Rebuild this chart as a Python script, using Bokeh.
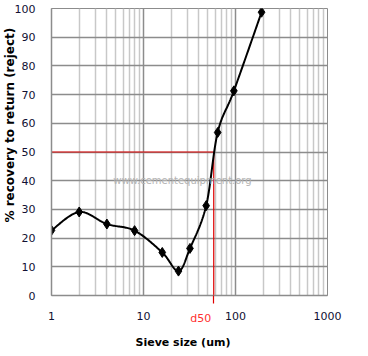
import numpy as np
from bokeh.plotting import figure
from bokeh.models import (FixedTicker, Label, Title, LogAxis)
from bokeh.embed import file_html
from bokeh.resources import INLINE

# ---- data ----
sieve_size = [1, 2, 4, 8, 16, 24, 32, 48, 64, 96, 192]
recovery = [22.7, 29.1, 24.9, 22.6, 15.0, 8.5, 16.4, 31.3, 56.8, 71.3, 98.7]
D50 = 58
D50_LEVEL = 50

x_ticks = [1, 10, 100, 1000]
x_tick_labels = {1: "1", 10: "10", 100: "100", 1000: "1000"}
x_minor = [m * d for d in (1, 10, 100) for m in range(2, 10)]
y_ticks = list(range(0, 101, 10))

# ---- layout ----
FRAME_W, FRAME_H = 276, 287
FONT = "DejaVu Sans"
RED = "#e00000"
# the "d50" text sits 13px left of the d50 line
D50_LABEL_X = D50 * 10 ** (-13 / (FRAME_W / 3))

# ---- smoothed line (Excel-style Catmull-Rom Bezier in log-x/y space) ----
lx = np.log10(np.array(sieve_size, dtype=float))
yy = np.array(recovery, dtype=float)
P = np.column_stack([lx, yy])
n = len(P)
curve = []
t = np.linspace(0, 1, 30)
for i in range(n - 1):
    p0 = P[max(i - 1, 0)]
    p1 = P[i]
    p2 = P[i + 1]
    p3 = P[min(i + 2, n - 1)]
    c1 = p1 + (p2 - p0) / 6.0
    c2 = p2 - (p3 - p1) / 6.0
    for tt in t:
        b = ((1 - tt) ** 3) * p1 + 3 * ((1 - tt) ** 2) * tt * c1 + 3 * (1 - tt) * tt ** 2 * c2 + tt ** 3 * p2
        curve.append(b)
curve = np.array(curve)
cx = 10 ** curve[:, 0]
cy = curve[:, 1]

p = figure(frame_width=FRAME_W, frame_height=FRAME_H, x_axis_type="log",
           x_range=(1, 1000), y_range=(0, 100),
           output_backend="svg", toolbar_location=None,
           min_border_left=51, min_border_right=33, min_border_top=8, min_border_bottom=53)

p.outline_line_color = "#8c8c8c"
p.background_fill_color = "white"
p.border_fill_color = "white"

# axis A (nearest frame): gray axis line, red d50 tick (as minor tick) and red "d50" label
axA = p.xaxis[0]
axA.ticker = FixedTicker(ticks=[D50_LABEL_X], minor_ticks=[D50])
axA.major_label_overrides = {D50_LABEL_X: "d50"}
axA.axis_line_color = "#8c8c8c"
axA.axis_line_width = 1.5
axA.major_tick_line_color = None
axA.major_tick_in = 0
axA.major_tick_out = 8
axA.minor_tick_line_color = RED
axA.minor_tick_line_width = 1.2
axA.minor_tick_in = 0
axA.minor_tick_out = 8
axA.major_label_text_font = FONT
axA.major_label_text_font_size = "11px"
axA.major_label_text_color = "#ff3030"
axA.major_label_standoff = 8

# axis B: main tick labels, pulled up into the same row
axB = LogAxis(ticker=FixedTicker(ticks=x_ticks), major_label_overrides=x_tick_labels)
axB.axis_line_color = None
axB.major_tick_line_color = None
axB.minor_tick_line_color = None
axB.major_label_text_font = FONT
axB.major_label_text_font_size = "11px"
axB.major_label_text_color = "#111133"
axB.major_label_standoff = -22
p.add_layout(axB, "below")

p.yaxis.ticker = FixedTicker(ticks=y_ticks)
p.yaxis.axis_line_color = "#8c8c8c"
p.yaxis.axis_line_width = 1.5
p.yaxis.major_tick_line_color = None
p.yaxis.minor_tick_line_color = None
p.yaxis.major_label_text_font = FONT
p.yaxis.major_label_text_font_size = "11px"
p.yaxis.major_label_text_color = "#111133"
p.yaxis.major_label_standoff = 10

p.add_layout(Title(text="Sieve size (um)", align="left", offset=84, standoff=12,
                   text_font=FONT, text_font_size="11px", text_font_style="bold",
                   text_color="black"), "below")
p.add_layout(Title(text="% recovery to return (reject)", align="left", offset=73, standoff=-10,
                   text_font=FONT, text_font_size="12px", text_font_style="bold",
                   text_color="black"), "left")

p.xgrid.ticker = FixedTicker(ticks=x_ticks, minor_ticks=x_minor)
p.xgrid.grid_line_color = "#8c8c8c"
p.xgrid.minor_grid_line_color = "#c8c8c8"
p.xgrid.minor_grid_line_width = 1.5
p.ygrid.grid_line_color = "#8c8c8c"
p.xgrid.grid_line_width = 1.5
p.ygrid.grid_line_width = 1.5

# watermark
p.add_layout(Label(x=131, y=115, x_units="screen", y_units="screen",
                   text="www.cementequipment.org", text_align="center", text_baseline="middle",
                   text_font=FONT, text_font_size="10px", text_color="#b4b4b4"))

# d50 guide lines
p.line([1, D50], [D50_LEVEL, D50_LEVEL], line_color=RED, line_width=1.2)
p.line([D50, D50], [D50_LEVEL, 0], line_color=RED, line_width=1.2)

# curve and markers
p.line(cx, cy, line_color="black", line_width=2)
p.scatter(sieve_size, recovery, marker="diamond", size=10, fill_color="black", line_color="black")

open("out.html", "w").write(file_html(p, INLINE))
